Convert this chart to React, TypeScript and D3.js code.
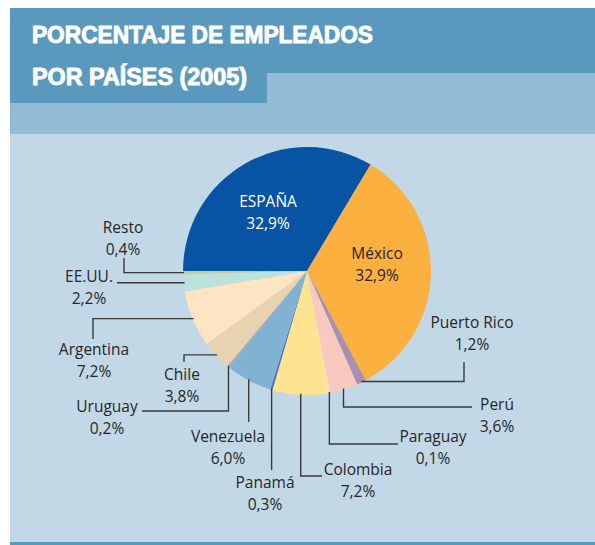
import React from "react";
import * as d3 from "d3";

const countries = ["ESPAÑA", "México", "Puerto Rico", "Perú", "Paraguay", "Colombia", "Panamá", "Venezuela", "Uruguay", "Chile", "Argentina", "EE.UU.", "Resto"];
const values = [32.9, 32.9, 1.2, 3.6, 0.1, 7.2, 0.3, 6.0, 0.2, 3.8, 7.2, 2.2, 0.4];
const valueLabels = ["32,9%", "32,9%", "1,2%", "3,6%", "0,1%", "7,2%", "0,3%", "6,0%", "0,2%", "3,8%", "7,2%", "2,2%", "0,4%"];
const titleLines = ["PORCENTAJE DE EMPLEADOS", "POR PAÍSES (2005)"];

const sliceColors = ["#0654A3", "#FBB040", "#A98FB0", "#F9C8BE", "#E6F0DC", "#FEE491", "#4A74C6", "#82B2D2", "#C99DB6", "#E8D3B1", "#FDE4C2", "#BCE2DD", "#CEC996"];

// label layout: text center x, name baseline y, text colour, leader start (null = none), last segment orientation
type Lay = { tx: number; ty: number; fill: string; lx: number | null; ly: number | null; dir: "h" | "v" | null };
const layout: Lay[] = [
  { tx: 268, ty: 207, fill: "#ffffff", lx: null, ly: null, dir: null },
  { tx: 377, ty: 259, fill: "#262626", lx: null, ly: null, dir: null },
  { tx: 472, ty: 328, fill: "#262626", lx: 464, ly: 362, dir: "h" },
  { tx: 497, ty: 410, fill: "#262626", lx: 472, ly: 407, dir: "v" },
  { tx: 433, ty: 442, fill: "#262626", lx: 398, ly: 444, dir: "v" },
  { tx: 358, ty: 475, fill: "#262626", lx: 322, ly: 476, dir: "v" },
  { tx: 265, ty: 488, fill: "#262626", lx: null, ly: 470, dir: "v" },
  { tx: 228, ty: 442, fill: "#262626", lx: null, ly: 422, dir: "v" },
  { tx: 107, ty: 412, fill: "#262626", lx: 142, ly: 411, dir: "v" },
  { tx: 182, ty: 380, fill: "#262626", lx: 184, ly: 362, dir: "h" },
  { tx: 94, ty: 355, fill: "#262626", lx: 93, ly: 339, dir: "h" },
  { tx: 89, ty: 282, fill: "#262626", lx: 117, ly: null, dir: "h" },
  { tx: 123, ty: 233, fill: "#262626", lx: 124, ly: 258, dir: "h" },
];

const W = 595;
const H = 545;
const cx = 307;
const cy = 271;
const R = 124;

export default function App() {
  const pie = d3
    .pie<number>()
    .sort(null)
    .value((d) => d)
    .startAngle(-Math.PI / 2)
    .endAngle((3 * Math.PI) / 2);
  const arcs = pie(values);
  const arcGen = d3.arc<d3.PieArcDatum<number>>().innerRadius(0).outerRadius(R);

  const leaders = arcs.map((a, i) => {
    const L = layout[i];
    if (!L.dir) return null;
    const mid = (a.startAngle + a.endAngle) / 2;
    const ex = cx + (R - 1) * Math.sin(mid);
    const ey = cy - (R - 1) * Math.cos(mid);
    let pts: [number, number][];
    if (L.dir === "h") {
      if (L.ly === null) pts = [[L.lx as number, ey], [ex, ey]];
      else pts = [[L.lx as number, L.ly], [L.lx as number, ey], [ex, ey]];
    } else {
      if (L.lx === null) pts = [[ex, L.ly as number], [ex, ey]];
      else pts = [[L.lx, L.ly as number], [ex, L.ly as number], [ex, ey]];
    }
    return d3.line()(pts);
  });

  const font = "'Open Sans', 'Noto Sans', sans-serif";

  return (
    <svg width={W} height={H} style={{ position: "absolute", left: 0, top: 0, display: "block" }}>
      <rect x={0} y={0} width={W} height={H} fill="#ffffff" />
      {/* panel */}
      <rect x={10} y={134} width={W - 10} height={409} fill="#C3D8E6" />
      <rect x={10} y={73} width={W - 10} height={61} fill="#94BBD5" />
      <rect x={10} y={8} width={W - 10} height={65} fill="#5899BD" />
      <rect x={10} y={72} width={257} height={31} fill="#5899BD" />
      <rect x={10} y={542} width={W - 10} height={3} fill="#5899BD" />
      {/* title */}
      {titleLines.map((t, i) => (
        <text
          key={t}
          x={32}
          y={i === 0 ? 43 : 85}
          fill="#ffffff"
          stroke="#ffffff"
          strokeWidth={0.9}
          fontFamily="'Liberation Sans', Arial, sans-serif"
          fontWeight={700}
          fontSize={23}
          textLength={i === 0 ? 341 : 215}
          lengthAdjust="spacingAndGlyphs"
        >
          {t}
        </text>
      ))}
      {/* pie */}
      <g transform={`translate(${cx},${cy})`}>
        {arcs.map((a, i) => (
          <path key={countries[i]} d={arcGen(a) || ""} fill={sliceColors[i]} />
        ))}
      </g>
      {/* leaders */}
      {leaders.map((d, i) =>
        d ? <path key={"l" + i} d={d} fill="none" stroke="#3a3a3a" strokeWidth={1.4} /> : null
      )}
      {/* labels */}
      {layout.map((L, i) => (
        <g key={"t" + i} fill={L.fill} fontFamily={font} fontSize={15.5} textAnchor="middle">
          <text x={L.tx} y={L.ty}>{countries[i]}</text>
          <text x={L.tx} y={L.ty + 21.5}>{valueLabels[i]}</text>
        </g>
      ))}
    </svg>
  );
}
